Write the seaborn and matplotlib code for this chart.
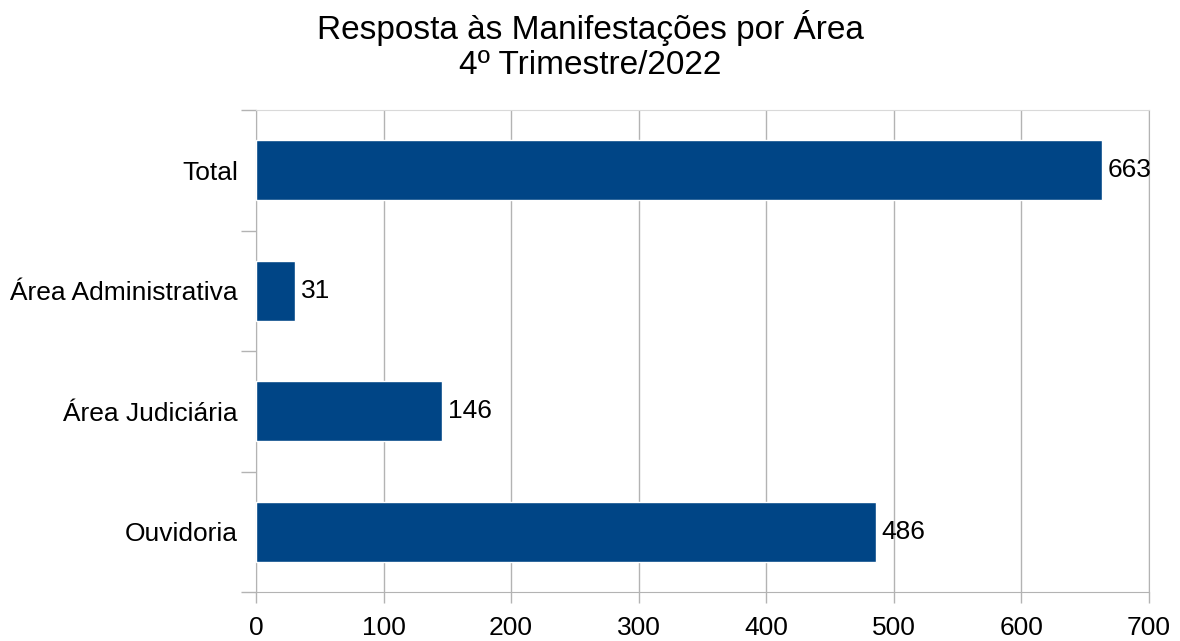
import pandas as pd
import matplotlib.pyplot as plt
import seaborn as sns

# data
areas = ["Total", "Área Administrativa", "Área Judiciária", "Ouvidoria"]
respostas = [663, 31, 146, 486]

sns.set_style("white")
plt.rcParams['font.family'] = ['Liberation Sans', 'DejaVu Sans']
plt.rcParams['text.color'] = 'black'
plt.rcParams['xtick.labelcolor'] = 'black'
plt.rcParams['ytick.labelcolor'] = 'black'

df = pd.DataFrame({"area": areas, "respostas": respostas})

fig = plt.figure(figsize=(11.8, 6.41), dpi=100)
ax = fig.add_axes([0.2169, 0.0764, 0.7568, 0.752])

sns.barplot(data=df, x="respostas", y="area", orient="h", color="#004586",
            width=0.5, saturation=1, ax=ax, zorder=3)

# value labels next to bars
for c in ax.containers:
    ax.bar_label(c, padding=4, fontsize=19, color="black")

ax.set_xlim(0, 700)
ax.set_ylim(3.5, -0.5)
ax.set_xticks(range(0, 701, 100))
ax.set_xlabel("")
ax.set_ylabel("")
ax.tick_params(axis="x", bottom=True, labelsize=19, length=8, width=1,
               color="#b3b3b3", pad=9)
ax.tick_params(axis="y", left=True, labelsize=19, length=0, pad=13)
# tick marks between categories
ax.set_yticks([-0.5, 0.5, 1.5, 2.5, 3.5], minor=True)
ax.tick_params(axis="y", which="minor", left=True, length=11, width=1,
               color="#b3b3b3")

ax.grid(axis="x", color="#b3b3b3", linewidth=1, zorder=0)
ax.set_axisbelow(True)
for s in ["left", "bottom", "right"]:
    ax.spines[s].set_color("#b3b3b3")
ax.spines["top"].set_color("#d9d9d9")

fig.text(0.5, 0.985, "Resposta às Manifestações por Área\n4º Trimestre/2022",
         ha="center", va="top", fontsize=24, linespacing=1.2)

fig.savefig("out.png", dpi=100)
